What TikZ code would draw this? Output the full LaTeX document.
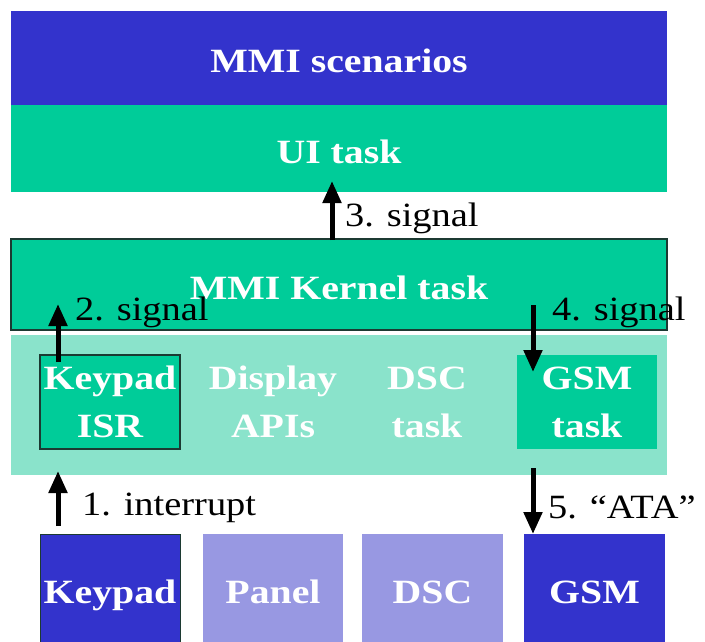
\documentclass[tikz,border=0pt]{standalone}
\usepackage{fontspec}
\setmainfont{Liberation Serif}
\usetikzlibrary{arrows.meta}
\definecolor{mmiblue}{HTML}{3333CC}
\definecolor{mmigreen}{HTML}{00CC99}
\definecolor{bandgreen}{HTML}{8AE3CB}
\definecolor{paleblue}{HTML}{9898E2}
\definecolor{edgedark}{HTML}{1C3A32}
\newcommand\wide[1]{\scalebox{1.17}[1]{#1}}
\newcommand\widelabel[1]{\scalebox{1.13}[1]{#1}}
\tikzset{
  txt/.style={font=\fontsize{34}{48}\selectfont, inner sep=0pt},
  boxlabel/.style={txt, text=white, font=\fontsize{34}{48}\selectfont\bfseries, align=center},
  block/.style={boxlabel, rectangle, draw=none, minimum width=#1, outer sep=0pt},
  onebase/.style={text height=32pt, text depth=2pt},
  hwbase/.style={text height=30pt, text depth=3pt},
  sig/.style={line width=5pt, -{Triangle[width=18pt,length=22pt]}},
  siglabel/.style={txt, anchor=base west},
}
\begin{document}
\begin{tikzpicture}[x=1pt, y=-1pt]
\useasboundingbox (0,0) rectangle (705,642);
% upper layers
\node[block=656pt, minimum height=94pt, fill=mmiblue, onebase] (scen) at (339,58) {\wide{MMI scenarios}};
\node[block=656pt, minimum height=87pt, fill=mmigreen, onebase] (ui) at (339,148.5) {\wide{UI task}};
\node[block=656pt, minimum height=91pt, fill=mmigreen, draw=edgedark, line width=1.2pt, onebase] (kernel) at (339,284.5) {\wide{MMI Kernel task}};
% driver / task band
\node[block=656pt, minimum height=140pt, fill=bandgreen] (band) at (339,405) {};
\node[block=140pt, minimum height=94pt, fill=mmigreen, draw=edgedark, line width=1.2pt] (isr) at (110,402) {\wide{Keypad}\\\wide{ISR}};
\node[boxlabel] (disp) at (273,402) {\wide{Display}\\\wide{APIs}};
\node[boxlabel] (dsct) at (427,402) {\wide{DSC}\\\wide{task}};
\node[block=140pt, minimum height=94pt, fill=mmigreen] (gsmt) at (587,402) {\wide{GSM}\\\wide{task}};
% hardware
\node[block=140pt, minimum height=111pt, fill=mmiblue, draw=edgedark, line width=0.8pt, hwbase] (kp) at (110,589.5) {\wide{Keypad}};
\node[block=140pt, minimum height=111pt, fill=paleblue, hwbase] (panel) at (273,589.5) {\wide{Panel}};
\node[block=141pt, minimum height=111pt, fill=paleblue, hwbase] (dsc) at (432.5,589.5) {\wide{DSC}};
\node[block=141pt, minimum height=111pt, fill=mmiblue, hwbase] (gsm) at (594.5,589.5) {\wide{GSM}};
% signal path
\coordinate (s1) at (58,526);
\coordinate (e1) at (58,471);
\coordinate (s2) at (58,362);
\coordinate (e2) at (58,304);
\coordinate (s3) at (332,240);
\coordinate (e3) at (332,181);
\coordinate (s4) at (533,305);
\coordinate (e4) at (533,372);
\coordinate (s5) at (533,468);
\coordinate (e5) at (533,534);
\draw[sig] (s1) -- (e1);
\draw[sig] (s2) -- (e2);
\draw[sig] (s3) -- (e3);
\draw[sig] (s4) -- (e4);
\draw[sig] (s5) -- (e5);
\node[siglabel] (l1) at (82,515) {\widelabel{1. interrupt}};
\node[siglabel] (l2) at (75,320) {\widelabel{2. signal}};
\node[siglabel] (l3) at (345,226) {\widelabel{3. signal}};
\node[siglabel] (l4) at (552,320) {\widelabel{4. signal}};
\node[siglabel] (l5) at (548,518) {\widelabel{5. “ATA”}};
\end{tikzpicture}
\end{document}
